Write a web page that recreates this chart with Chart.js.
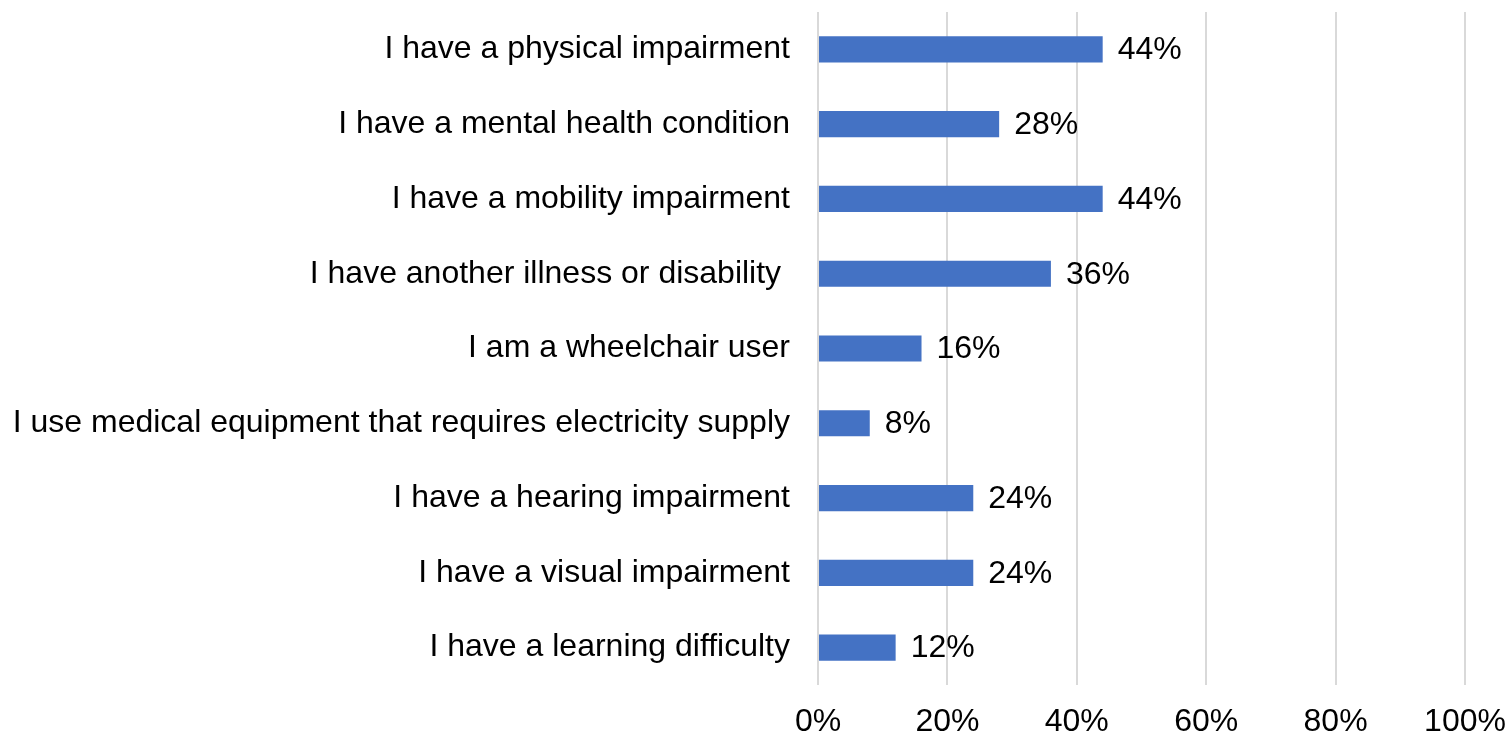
<!DOCTYPE html>
<html>
<head>
<meta charset="utf-8">
<script src="https://cdn.jsdelivr.net/npm/chart.js@4.4.1/dist/chart.umd.min.js"></script>
<style>
	html, body {margin: 0; padding: 0; background: #fff;}
	#wrap {width: 1509px; height: 735px;}
</style>
</head>
<body>
<div id="wrap"><canvas id="chart" width="1509" height="735"></canvas></div>
<script>
const categories = [
	"I have a physical impairment",
	"I have a mental health condition",
	"I have a mobility impairment",
	"I have another illness or disability ",
	"I am a wheelchair user",
	"I use medical equipment that requires electricity supply",
	"I have a hearing impairment",
	"I have a visual impairment",
	"I have a learning difficulty"
];
const shares = [44, 28, 44, 36, 16, 8, 24, 24, 12];
const xTicks = [0, 20, 40, 60, 80, 100];

const font = {family: "'Liberation Sans', Arial, sans-serif", size: 32};

// percent labels just past the end of each bar
const barLabels = {
	id: "barLabels",
	afterDatasetsDraw(chart)
	{
		const ctx = chart.ctx;
		const meta = chart.getDatasetMeta(0);
		ctx.save();
		ctx.font = `${font.size}px ${font.family}`;
		ctx.fillStyle = "#000";
		ctx.textBaseline = "middle";
		ctx.textAlign = "left";
		meta.data.forEach((bar, i) =>
			ctx.fillText(shares[i] + "%", bar.x + 15, bar.y + 1));
		ctx.restore();
	}
};

new Chart(document.getElementById("chart"), {
	type: "bar",
	data: {
		labels: categories,
		datasets: [{
			data: shares,
			backgroundColor: "#4472C4",
			borderWidth: 0,
			categoryPercentage: 1,
			barPercentage: 0.35
		}]
	},
	options: {
		indexAxis: "y",
		responsive: false,
		animation: false,
		layout: {autoPadding: false, padding: {top: 12, right: 44, left: 0, bottom: 0}},
		plugins: {legend: {display: false}, tooltip: {enabled: false}},
		scales: {
			x: {
				min: 0,
				max: 100,
				afterBuildTicks: axis => axis.ticks = xTicks.map(value => ({value})),
				afterFit: axis =>
				{
					axis.height = 50;
					axis.paddingLeft = 0;
					axis.paddingRight = 0;
				},
				grid: {color: "#d9d9d9", lineWidth: 2, drawTicks: false},
				border: {display: false},
				ticks: {
					color: "#000",
					font,
					padding: 18,
					maxRotation: 0,
					callback: v => v + "%"
				}
			},
			y: {
				afterFit: axis =>
				{
					axis.width = 818;
					axis.paddingTop = 0;
					axis.paddingBottom = 0;
				},
				grid: {display: false, drawTicks: false},
				border: {display: false},
				ticks: {color: "#000", font, padding: 28, autoSkip: false}
			}
		}
	},
	plugins: [barLabels]
});
</script>
</body>
</html>
